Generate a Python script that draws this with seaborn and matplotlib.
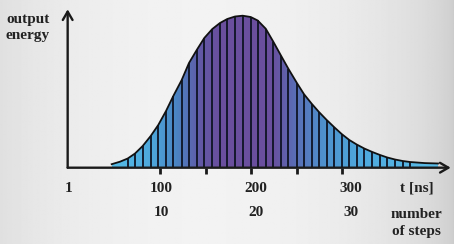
import numpy as np
import matplotlib
matplotlib.use("Agg")
import matplotlib.pyplot as plt
from matplotlib.colors import LinearSegmentedColormap
import seaborn as sns
import pandas as pd

# ---- data ----
# time of each sample [ns] (curve ends + one value per step line)
t_ns = [47.0, 56.1,
        64.6, 72.6, 81.0, 89.8, 98.1, 106.6, 114.6, 123.8, 131.8, 140.3,
        148.6, 157.4, 165.8, 173.8, 182.3, 190.7, 199.5, 207.2, 216.0, 224.3,
        232.8, 240.8, 250.0, 258.0, 266.4, 274.4, 282.9, 290.9, 299.3, 307.7,
        315.8, 324.1, 332.9, 341.4, 349.4, 357.8, 366.2, 374.3,
        381.6, 390.7, 405.0]
energy = [3.5, 6.0,
          9.2, 14.2, 21.7, 31.7, 42.7, 56.7, 71.7, 87.7, 104.7, 117.7,
          129.7, 138.7, 144.7, 148.7, 151.2, 152.0, 150.7, 147.2, 139.0, 126.0,
          112.0, 99.0, 85.0, 73.5, 64.0, 55.7, 47.7, 40.7, 33.7, 27.7,
          23.2, 19.2, 15.7, 12.7, 10.2, 8.2, 6.7, 5.7,
          5.2, 4.6, 4.2]
# which samples carry a step line
is_step = [False, False] + [True] * 38 + [False, False, False]

tick_t = [100, 150, 200, 250, 300]
time_labels = ["1", "100", "200", "300"]
time_label_t = [0, 101.9, 205.3, 309.2]
step_labels = ["10", "20", "30"]
step_label_t = [101.9, 205.3, 309.2]

df = pd.DataFrame({"t": t_ns, "energy": energy, "step": is_step})

W, H = 454, 244
fig = plt.figure(figsize=(W / 100, H / 100), dpi=100)

# background gradient
bg = fig.add_axes([0, 0, 1, 1], zorder=-5)
bx = np.linspace(0, 1, 400)
shade = 0.80 + 0.15 * np.clip(1 - ((bx - 0.45) / 0.55) ** 2, 0, 1) ** 0.6
bgimg = np.tile(shade, (50, 1))
bg.imshow(bgimg, cmap="gray", vmin=0, vmax=1, aspect="auto", extent=[0, 1, 0, 1])
bg.set_axis_off()

# main axes geometry (pixel based)
x0_px, x1_px = 68.85, 450.7
y_axis_px, y_top_px = 167.7, 9.3
px_per_ns = 0.9115
xmax = (x1_px - x0_px) / px_per_ns
ymax = y_axis_px - y_top_px
ax = fig.add_axes([x0_px / W, (H - y_axis_px) / H, (x1_px - x0_px) / W, ymax / H])
ax.set_facecolor("none")
ax.set_xlim(0, xmax)
ax.set_ylim(0, ymax)

# gradient fill under the curve
poly = ax.fill_between(df["t"], 0, df["energy"], color="none", lw=0)
stops = [(47, "#55bde8"), (89, "#4ea8dc"), (116, "#4a86c4"), (144, "#6258a6"),
         (165, "#6a4f9e"), (222, "#6a4f9e"), (246, "#5a6bb4"), (278, "#4f90cc"),
         (320, "#4ea9dd"), (405, "#5bbde8")]
lo, hi = stops[0][0], stops[-1][0]
cmap = LinearSegmentedColormap.from_list(
    "pulse", [((s - lo) / (hi - lo), c) for s, c in stops])
grad = np.tile(np.linspace(0, 1, 500), (10, 1))
im = ax.imshow(grad, cmap=cmap, aspect="auto", extent=[lo, hi, 0, ymax],
               origin="lower", zorder=1)
im.set_clip_path(poly.get_paths()[0], transform=ax.transData)

# step lines
steps = df[df["step"]]
ax.vlines(steps["t"], 0, steps["energy"], color="#0e1424", lw=1.3, zorder=2)

# envelope curve
sns.lineplot(data=df, x="t", y="energy", ax=ax, color="#111111", lw=1.3,
             zorder=3, legend=False)

# axes with arrows
for s in ax.spines.values():
    s.set_visible(False)
ax.annotate("", xy=(xmax, 0), xytext=(-1.3, 0), xycoords="data",
            arrowprops=dict(arrowstyle="->,head_length=0.6,head_width=0.35",
                            lw=1.7, color="#1a1a1a", shrinkA=0, shrinkB=0),
            annotation_clip=False)
ax.annotate("", xy=(-1.3, ymax), xytext=(-1.3, 0), xycoords="data",
            arrowprops=dict(arrowstyle="->,head_length=0.6,head_width=0.35",
                            lw=1.7, color="#1a1a1a", shrinkA=0, shrinkB=0),
            annotation_clip=False)
ax.set_xticks(tick_t)
ax.set_xticklabels([])
ax.set_yticks([])
ax.tick_params(axis="x", direction="out", length=4, width=2.0, color="#1a1a1a")
ax.set_xlabel("")
ax.set_ylabel("")

# text
font = dict(family="Liberation Serif", weight="bold", size=11, color="#222222")
row1 = 1 - 188.3 / H
row2 = 1 - 212.3 / H
for lab, tt in zip(time_labels, time_label_t):
    fig.text((x0_px + tt * px_per_ns) / W, row1, lab, ha="center", va="center", **font)
for lab, tt in zip(step_labels, step_label_t):
    fig.text((x0_px + tt * px_per_ns) / W, row2, lab, ha="center", va="center", **font)
fig.text(416.7 / W, row1, "t [ns]", ha="center", va="center", **font)
fig.text(416.7 / W, 1 - 215 / H, "number", ha="center", va="center", **font)
fig.text(416.7 / W, 1 - 231 / H, "of steps", ha="center", va="center", **font)
fig.text(6 / W, 1 - 19 / H, "output", ha="left", va="center", **font)
fig.text(6 / W, 1 - 35 / H, "energy", ha="left", va="center", **font)

fig.savefig("out.png", dpi=100)
